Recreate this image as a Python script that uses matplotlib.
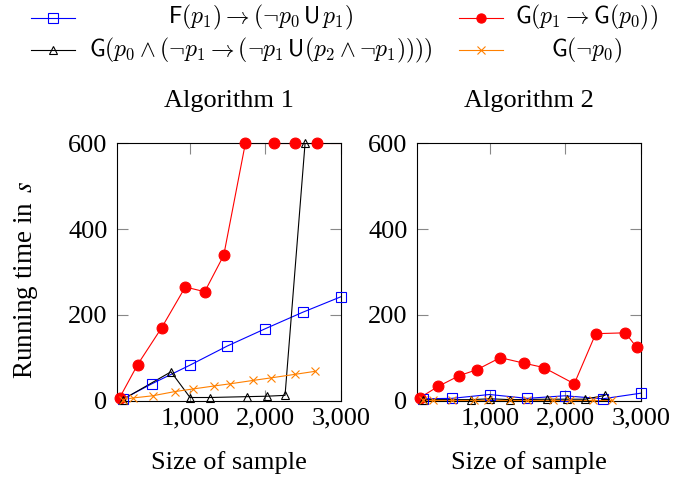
import matplotlib
matplotlib.use("Agg")
import matplotlib.pyplot as plt
from matplotlib.lines import Line2D

plt.rcParams['font.family'] = ['Liberation Serif', 'DejaVu Serif']
plt.rcParams['mathtext.fontset'] = 'stix'

# ---------------- data ----------------
xmin, xmax = 30, 3000
ymin, ymax = 0, 600
xticks = [1000, 2000, 3000]
xticklabels = ['1,000', '2,000', '3,000']
yticks = [0, 200, 400, 600]
yticklabels = ['0', '200', '400', '600']

titles = ['Algorithm 1', 'Algorithm 2']
legend_labels = [r'$\mathsf{F}(p_1) \rightarrow (\neg p_0\,\mathsf{U}\,p_1)$',
                 r'$\mathsf{G}(p_1 \rightarrow \mathsf{G}(p_0))$',
                 r'$\mathsf{G}(p_0 \wedge (\neg p_1 \rightarrow (\neg p_1\,\mathsf{U}(p_2 \wedge \neg p_1))))$',
                 r'$\mathsf{G}(\neg p_0)$']

# Algorithm 1
a1_blue_x = [100, 490, 990, 1490, 1990, 2495, 3000]
a1_blue_y = [3, 39, 82, 127, 167, 206, 242]
a1_red_x = [60, 301, 620, 934, 1192, 1445, 1732, 2114, 2389, 2690, 3300]
a1_red_y = [6, 84, 170, 265, 254, 339, 600, 600, 600, 600, 600]
a1_black_x = [100, 744, 997, 1263, 1755, 2017, 2260, 2526]
a1_black_y = [2, 67, 7, 7, 9, 10, 12, 600]
a1_orange_x = [100, 243, 500, 800, 1040, 1320, 1530, 1840, 2080, 2390, 2655]
a1_orange_y = [2, 6, 11, 21, 27, 34, 39, 47, 53, 61, 68]

# Algorithm 2
a2_blue_x = [100, 490, 990, 1490, 1990, 2495, 3000]
a2_blue_y = [4, 5, 14, 5, 11, 4, 17]
a2_red_x = [60, 309, 588, 823, 1133, 1452, 1710, 2117, 2402, 2795, 2947]
a2_red_y = [6, 33, 58, 72, 100, 87, 77, 39, 156, 158, 124]
a2_black_x = [100, 744, 997, 1263, 1755, 2017, 2260, 2526]
a2_black_y = [2, 2, 4, 2, 3, 3, 3, 12]
a2_orange_x = [100, 235, 487, 784, 974, 1263, 1485, 1831, 2061, 2362, 2619]
a2_orange_y = [2, 2, 2, 2, 2, 2, 2, 2, 2, 2, 2]

BLUE = '#0000ff'
RED = '#ff0000'
BLACK = '#000000'
ORANGE = '#ff8000'

styles = {
    'blue': dict(color=BLUE, marker='s', ms=7.2, mfc='none', mec=BLUE, mew=0.8),
    'red': dict(color=RED, marker='o', ms=7.8, mfc=RED, mec=RED, mew=0.8),
    'black': dict(color=BLACK, marker='^', ms=5.4, mfc='none', mec=BLACK, mew=0.8),
    'orange': dict(color=ORANGE, marker='x', ms=5.4, mfc=ORANGE, mec=ORANGE, mew=0.8),
}

FS = 19

W, H = 688, 479
fig = plt.figure(figsize=(W / 100, H / 100), dpi=100)

def px_rect(x0, x1, ytop, ybot):
    return [x0 / W, 1 - ybot / H, (x1 - x0) / W, (ybot - ytop) / H]

ax1 = fig.add_axes(px_rect(117.3, 340.7, 143.5, 400.5))
ax2 = fig.add_axes(px_rect(417.3, 640.7, 143.5, 400.5))

def draw(ax, x, y, key):
    st = styles[key]
    ax.plot(x, y, color=st['color'], lw=0.8, zorder=2)
    xs = [a for a in x if xmin <= a <= xmax]
    ys = [b for a, b in zip(x, y) if xmin <= a <= xmax]
    ax.plot(xs, ys, ls='none', marker=st['marker'], ms=st['ms'], mfc=st['mfc'],
            mec=st['mec'], mew=st['mew'], clip_on=False, zorder=3)

series = [
    (ax1, [(a1_blue_x, a1_blue_y, 'blue'), (a1_red_x, a1_red_y, 'red'),
           (a1_black_x, a1_black_y, 'black'), (a1_orange_x, a1_orange_y, 'orange')]),
    (ax2, [(a2_blue_x, a2_blue_y, 'blue'), (a2_red_x, a2_red_y, 'red'),
           (a2_black_x, a2_black_y, 'black'), (a2_orange_x, a2_orange_y, 'orange')]),
]

for i, (ax, ss) in enumerate(series):
    for x, y, key in ss:
        draw(ax, x, y, key)
    ax.set_xlim(xmin, xmax)
    ax.set_ylim(ymin, ymax)
    ax.set_xticks(xticks)
    ax.set_xticklabels(xticklabels)
    ax.set_yticks(yticks)
    ax.set_yticklabels(yticklabels)
    ax.tick_params(direction='in', length=8, width=0.8, color='#888888',
                   top=True, right=True, labelsize=FS, pad=7)
    ax.tick_params(axis='x', pad=5)
    for sp in ax.spines.values():
        sp.set_linewidth(0.8)
    ax.set_title(titles[i], fontsize=FS, pad=26)
    ax.set_xlabel('Size of sample', fontsize=FS, labelpad=15.5)

ax1.set_ylabel(r'Running time in $\,s$', fontsize=FS + 0.5)
ax1.yaxis.set_label_coords(-0.344, 0.47)

# ---------------- legend (pgfplots style, centered text cells) ----------------
rows = [17.5, 50]
handle_x = [(30.7, 75.3), (459.3, 503.3)]
text_cx = [261, 587]
order = [('blue', 0, 0), ('red', 0, 1), ('black', 1, 0), ('orange', 1, 1)]
for idx, (key, r, c) in enumerate(order):
    st = styles[key]
    yf = 1 - rows[r] / H
    x0, x1 = handle_x[c]
    fig.add_artist(Line2D([x0 / W, x1 / W], [yf, yf], transform=fig.transFigure,
                          color=st['color'], lw=0.8))
    fig.add_artist(Line2D([(x0 + x1) / 2 / W], [yf], transform=fig.transFigure,
                          ls='none', marker=st['marker'], ms=st['ms'] * (0.85 if key == 'red' else 1.0),
                          mfc=st['mfc'], mec=st['mec'], mew=st['mew']))
    fig.text(text_cx[c] / W, yf, legend_labels[idx], ha='center', va='center',
             fontsize=17, math_fontfamily='cm')

fig.savefig('out.png', dpi=100)
